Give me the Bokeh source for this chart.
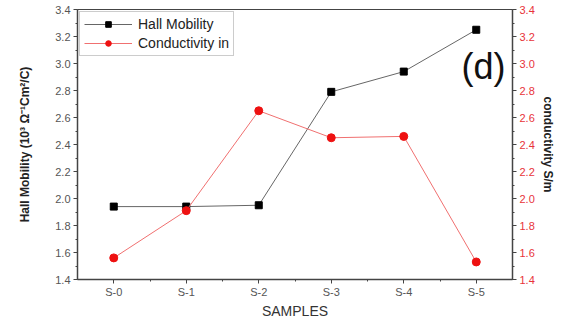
from bokeh.plotting import figure
from bokeh.models import (LinearAxis, Range1d, FixedTicker, Legend, LegendItem, Label,
                          NumeralTickFormatter)
from bokeh.embed import file_html
from bokeh.resources import INLINE

samples = ["S-0", "S-1", "S-2", "S-3", "S-4", "S-5"]
hall_mobility = [1.94, 1.94, 1.95, 2.79, 2.94, 3.25]
conductivity = [1.56, 1.91, 2.65, 2.45, 2.46, 1.53]
y_ticks = [1.4, 1.6, 1.8, 2.0, 2.2, 2.4, 2.6, 2.8, 3.0, 3.2, 3.4]

xs = list(range(len(samples)))
FONT = "Liberation Sans"

p = figure(frame_width=435, frame_height=270, output_backend="svg", toolbar_location=None,
           x_range=Range1d(-0.5, len(samples) - 0.5), y_range=Range1d(1.4, 3.4),
           min_border_left=77, min_border_right=42, min_border_top=9, min_border_bottom=36)
p.extra_y_ranges = {"right": Range1d(1.4, 3.4)}
p.grid.visible = False
p.outline_line_color = "#444444"
p.background_fill_color = "white"

minor_y = [round(v + 0.1, 2) for v in y_ticks[:-1]]

def style_axis(ax, color_labels):
    ax.axis_line_color = "#444444"
    ax.axis_line_width = 1.5
    ax.major_tick_line_color = "#444444"
    ax.minor_tick_line_color = "#444444"
    ax.major_tick_in = 0
    ax.major_tick_out = 4
    ax.minor_tick_in = 0
    ax.minor_tick_out = 2
    ax.major_label_standoff = 3
    ax.major_label_text_font = FONT
    ax.major_label_text_font_size = "11px"
    ax.major_label_text_color = color_labels
    ax.axis_label_text_font = FONT
    ax.axis_label_text_font_style = "bold"
    ax.axis_label_text_font_size = "12px"
    ax.axis_label_text_color = "#222222"
    ax.axis_label_standoff = 4

# x axis
xax = p.xaxis[0]
xax.ticker = FixedTicker(ticks=xs, minor_ticks=[i + 0.5 for i in xs[:-1]])
xax.major_label_overrides = {i: s for i, s in enumerate(samples)}
xax.axis_label = "SAMPLES"
style_axis(xax, "#555555")
xax.axis_label_text_font_style = "normal"
xax.axis_label_text_font_size = "14px"
xax.axis_label_text_color = "#333333"
xax.major_label_standoff = 2
xax.axis_label_standoff = 2

# left axis
yax = p.yaxis[0]
yax.ticker = FixedTicker(ticks=y_ticks, minor_ticks=minor_y)
yax.formatter = NumeralTickFormatter(format="0.0")
yax.axis_label = "Hall Mobility (10³ Ω⁻¹Cm²/C)"
style_axis(yax, "#555555")
yax.axis_label_standoff = 20

# right axis
rax = LinearAxis(y_range_name="right", axis_label="conductivity S/m")
rax.ticker = FixedTicker(ticks=y_ticks, minor_ticks=minor_y)
rax.formatter = NumeralTickFormatter(format="0.0")
style_axis(rax, "#e8333a")
rax.axis_label_standoff = 3
p.add_layout(rax, "right")

# series
l1 = p.line(xs, hall_mobility, line_color="#666666", line_width=1)
m1 = p.scatter(xs, hall_mobility, marker="square", size=7, fill_color="black", line_color="black")
l2 = p.line(xs, conductivity, line_color="#f07070", line_width=1, y_range_name="right")
m2 = p.scatter(xs, conductivity, marker="circle", size=8, fill_color="#ee1111", line_color="#ee1111",
               y_range_name="right")

legend = Legend(items=[LegendItem(label="Hall Mobility", renderers=[l1, m1]),
                       LegendItem(label="Conductivity in", renderers=[l2, m2])],
                location="top_left")
legend.label_text_font = FONT
legend.label_text_font_size = "14px"
legend.label_text_color = "#222222"
legend.border_line_color = "#999999"
legend.border_line_width = 1
legend.glyph_width = 48
legend.glyph_height = 14
legend.label_height = 14
legend.spacing = 3
legend.padding = 4
legend.margin = 2
legend.label_standoff = 6
legend.background_fill_alpha = 1
p.add_layout(legend)

p.add_layout(Label(x=5.1, y=2.98, text="(d)", text_font=FONT, text_font_size="36px",
                   text_color="#111111", text_align="center", text_baseline="middle"))

open("out.html", "w").write(file_html(p, INLINE))
